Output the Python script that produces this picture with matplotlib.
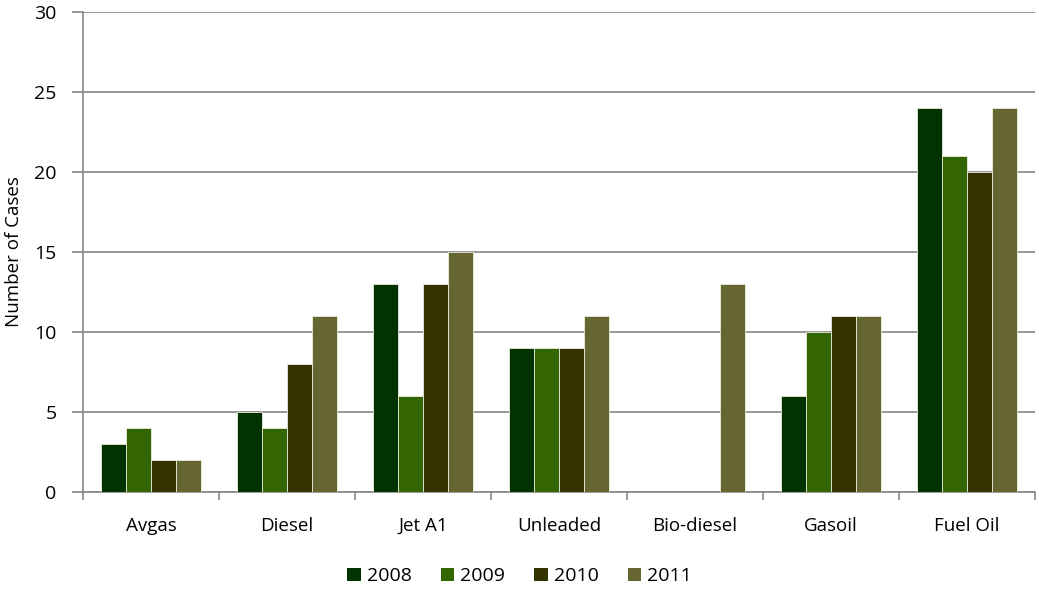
import matplotlib
matplotlib.use("AGG")
import numpy as np
import matplotlib.pyplot as plt
from matplotlib.patches import Patch

plt.rcParams['font.family'] = ['Open Sans', 'DejaVu Sans']

fuels = ['Avgas', 'Diesel', 'Jet A1', 'Unleaded', 'Bio-diesel', 'Gasoil', 'Fuel Oil']
years = ['2008', '2009', '2010', '2011']
cases_2008 = [3, 5, 13, 9, 0, 6, 24]
cases_2009 = [4, 4, 6, 9, 0, 10, 21]
cases_2010 = [2, 8, 13, 9, 0, 11, 20]
cases_2011 = [2, 11, 15, 11, 13, 11, 24]
colors = ['#003300', '#336600', '#333300', '#666633']

series = [cases_2008, cases_2009, cases_2010, cases_2011]

fig = plt.figure(figsize=(10.39, 5.91), dpi=100)
ax = fig.add_axes([0.08, 0.1675, 0.916, 0.8125])

x = np.arange(len(fuels))
w = 0.183
for i, (vals, c) in enumerate(zip(series, colors)):
    ax.bar(x + (i - 1.5) * w, vals, w, color=c, edgecolor='#e8eedd', linewidth=0.6,
           label=years[i], zorder=3)

ax.set_ylim(0, 30)
ax.set_xlim(-0.5, len(fuels) - 0.5)
ax.set_yticks(np.arange(0, 31, 5))
ax.yaxis.grid(True, color='#868686', linewidth=1.2, zorder=0)
ax.set_axisbelow(True)

ax.set_xticks(x)
ax.set_xticklabels(fuels, fontsize=13.5)
ax.set_xticks(np.arange(-0.5, len(fuels)), minor=True)
ax.tick_params(axis='x', which='major', length=0, pad=18)
ax.tick_params(axis='x', which='minor', length=6, width=1.2, color='#868686')
ax.tick_params(axis='y', length=8, width=1.2, color='#868686', labelsize=14, pad=11)

for s in ['top', 'right']:
    ax.spines[s].set_visible(False)
for s in ['left', 'bottom']:
    ax.spines[s].set_color('#868686')
    ax.spines[s].set_linewidth(1.2)

ax.set_ylabel('Number of Cases', fontsize=13.5, labelpad=8)

handles = [Patch(facecolor=c, label=y) for c, y in zip(colors, years)]
fig.legend(handles=handles, loc='lower center', bbox_to_anchor=(0.5, -0.02), ncol=4,
           frameon=False, fontsize=14, handlelength=0.7, handleheight=0.7,
           handletextpad=0.3, columnspacing=1.5)

fig.savefig('out.png', dpi=100)
